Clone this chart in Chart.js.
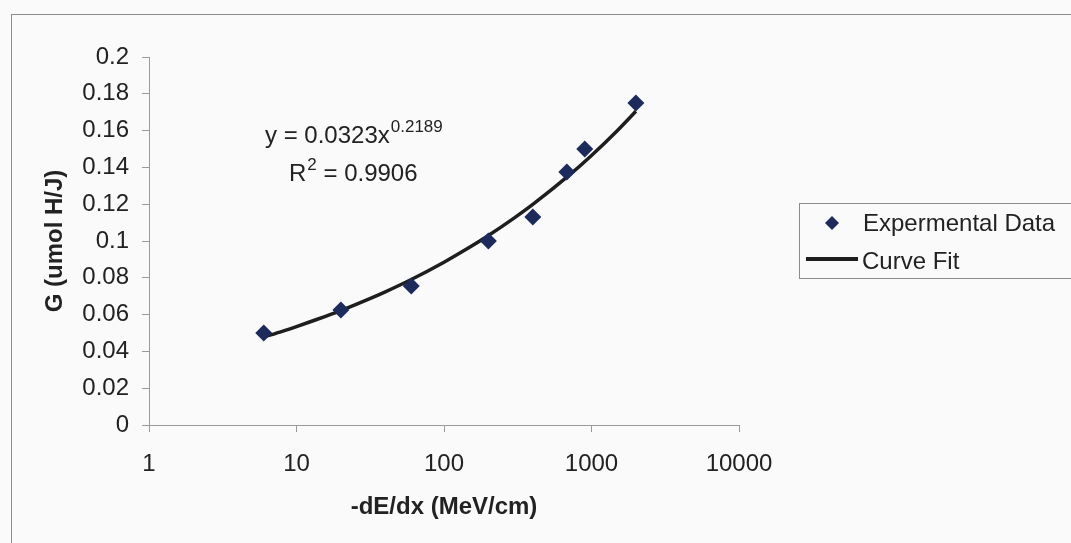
<!DOCTYPE html>
<html>
<head>
<meta charset="utf-8">
<title>G vs -dE/dx</title>
<script src="https://cdn.jsdelivr.net/npm/chart.js@4"></script>
<style>
  html, body { margin: 0; padding: 0; background: #fafafa; }
  #wrap { width: 1071px; height: 543px; position: relative; }
</style>
</head>
<body>
<div id="wrap"><canvas id="chart1"></canvas></div>
<script>
const dEdx = [6, 20, 60, 200, 400, 680, 900, 2000]
const G = [0.050, 0.0625, 0.0755, 0.100, 0.113, 0.1375, 0.150, 0.175]

// power-law curve fit, sampled along the drawn line
const fitX = [6, 8, 10, 14, 20, 30, 40, 60, 100, 150, 200, 300, 400, 700, 1000, 1500, 2000]
const fitY = [0.0478, 0.0509, 0.0535, 0.0576, 0.0622, 0.0680, 0.0724, 0.0791, 0.0885, 0.0967,
              0.1030, 0.1126, 0.1199, 0.1355, 0.1465, 0.1601, 0.1705]

const xTicks = [1, 10, 100, 1000, 10000]
const legendLabels = ['Expermental Data', 'Curve Fit']
const eqText = 'y = 0.0323x'
const eqPower = '0.2189'
const r2Text = ' = 0.9906'

const pointColor = '#1c2a5c'
const lineColor = '#1e1e1e'
const axisColor = '#9a9a9a'
const textColor = '#222'
const fontFamily = '"Liberation Sans", Arial, sans-serif'

// outer frame, trend line equation and the boxed legend
const extras = {
  id: 'extras',
  beforeDraw(chart) {
    const ctx = chart.ctx
    ctx.save()
    ctx.strokeStyle = '#8c8c8c'
    ctx.lineWidth = 1
    ctx.strokeRect(11.5, 14.5, 1200, 700)
    ctx.restore()
  },
  afterDatasetsDraw(chart) {
    const ctx = chart.ctx
    ctx.save()
    ctx.fillStyle = textColor
    ctx.textBaseline = 'middle'
    ctx.textAlign = 'left'

    ctx.font = '24px ' + fontFamily
    ctx.fillText(eqText, 265, 136)
    let w = ctx.measureText(eqText).width
    ctx.font = '17px ' + fontFamily
    ctx.fillText(eqPower, 265 + w + 1, 127)

    ctx.font = '24px ' + fontFamily
    ctx.fillText('R', 289, 174)
    let wr = ctx.measureText('R').width
    ctx.font = '17px ' + fontFamily
    ctx.fillText('2', 289 + wr + 1, 165)
    let w2 = ctx.measureText('2').width
    ctx.font = '24px ' + fontFamily
    ctx.fillText(r2Text, 289 + wr + w2 + 1, 174)

    // legend box
    ctx.strokeStyle = '#8c8c8c'
    ctx.lineWidth = 1
    ctx.strokeRect(799.5, 203.5, 400, 75)

    ctx.fillStyle = pointColor
    ctx.beginPath()
    ctx.moveTo(832, 216)
    ctx.lineTo(839, 223)
    ctx.lineTo(832, 230)
    ctx.lineTo(825, 223)
    ctx.closePath()
    ctx.fill()

    ctx.strokeStyle = lineColor
    ctx.lineWidth = 4
    ctx.beginPath()
    ctx.moveTo(806, 259)
    ctx.lineTo(858, 259)
    ctx.stroke()

    ctx.fillStyle = textColor
    ctx.font = '24px ' + fontFamily
    ctx.fillText(legendLabels[0], 863, 224)
    ctx.fillText(legendLabels[1], 862, 262)
    ctx.restore()
  }
}

function plotChart() {
  const pts = dEdx.map((x, i) => ({x: x, y: G[i]}))
  const fit = fitX.map((x, i) => ({x: x, y: fitY[i]}))

  var ctx1 = document.getElementById('chart1').getContext('2d')
  var chart1 = new Chart(ctx1, {
    type: 'scatter',
    data: {
      datasets: [{
        label: legendLabels[1],
        data: fit,
        showLine: true,
        borderColor: lineColor,
        borderWidth: 3.5,
        pointRadius: 0,
        cubicInterpolationMode: 'monotone',
        order: 2
      },
      {
        label: legendLabels[0],
        data: pts,
        pointStyle: 'rectRot',
        pointRadius: 8.5,
        backgroundColor: pointColor,
        borderColor: pointColor,
        borderWidth: 0,
        order: 1
      }]
    },
    options: {
      responsive: true,
      maintainAspectRatio: false,
      animation: false,
      layout: {
        padding: { left: 37, top: 57, right: 332, bottom: 17 }
      },
      scales: {
        x: {
          type: 'logarithmic',
          min: 1,
          max: 10000,
          afterBuildTicks: scale => { scale.ticks = xTicks.map(v => ({value: v})) },
          afterFit: scale => { scale.height = 101 },
          grid: { drawOnChartArea: false, color: axisColor, tickLength: 7 },
          border: { color: axisColor },
          ticks: {
            color: textColor,
            padding: 18,
            maxRotation: 0,
            font: { family: fontFamily, size: 24 },
            callback: v => String(v)
          },
          title: {
            display: true,
            text: '-dE/dx (MeV/cm)',
            color: textColor,
            font: { family: fontFamily, size: 24, weight: 'bold' }
          }
        },
        y: {
          min: 0,
          max: 0.2,
          afterFit: scale => { scale.width = 112 },
          grid: { drawOnChartArea: false, color: axisColor, tickLength: 7 },
          border: { color: axisColor },
          ticks: {
            stepSize: 0.02,
            color: textColor,
            padding: 13,
            font: { family: fontFamily, size: 24 },
            callback: v => String(+v.toFixed(2))
          },
          title: {
            display: true,
            text: 'G (umol H/J)',
            color: textColor,
            font: { family: fontFamily, size: 24, weight: 'bold' }
          }
        }
      },
      plugins: {
        legend: { display: false },
        tooltip: { enabled: false }
      }
    },
    plugins: [extras]
  })
}

plotChart()
</script>
</body>
</html>
